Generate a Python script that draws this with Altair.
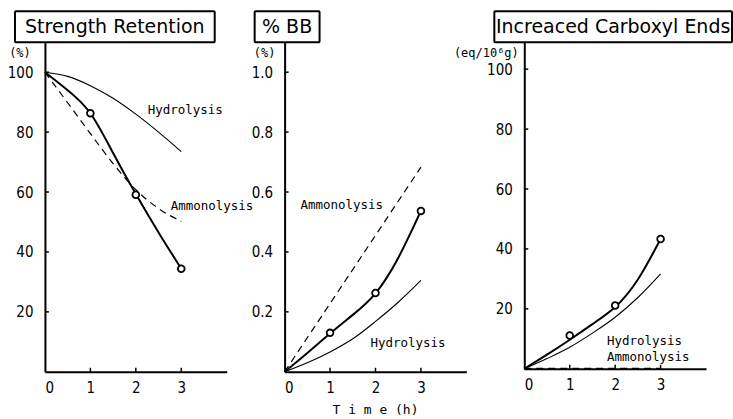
import altair as alt
import pandas as pd

# ---------------- data ----------------
t_meas = [0, 1, 2, 3]
t_curve = [0, 0.5, 1, 1.5, 2, 2.5, 3]

# Panel 1: Strength Retention (%)
sr_measured = [100, 86.3, 59.1, 34.4]                 # open circles
sr_fit = [100, 94.0, 86.3, 73.0, 59.3, 46.5, 34.4]     # thick curve
sr_hyd_t = t_curve
sr_hydrolysis = [100, 98.6, 95.5, 91.3, 86.0, 80.0, 73.5]
sr_amm_t = t_curve
sr_ammonolysis = [100, 89.8, 79.5, 69.5, 60.8, 54.5, 50.2]
sr_yticks = [20, 40, 60, 80, 100]
sr_labels = ["Hydrolysis", "Ammonolysis"]
sr_label_t = [2.26, 2.77]
sr_label_v = [87.3, 55.3]

# Panel 2: %BB (%)
bb_measured = [0, 0.13, 0.263, 0.537]
bb_fit = [0, 0.063, 0.128, 0.19, 0.262, 0.38, 0.537]
bb_hyd_t = t_curve
bb_hydrolysis = [0, 0.03, 0.066, 0.11, 0.168, 0.232, 0.305]
bb_amm_t = [0, 3]
bb_ammonolysis = [0, 0.683]
bb_yticks = [0.2, 0.4, 0.6, 0.8, 1.0]
bb_labels = ["Ammonolysis", "Hydrolysis"]
bb_label_t = [0.35, 1.89]
bb_label_v = [0.557, 0.097]

# Panel 3: Increaced Carboxyl Ends (eq/10^6 g)
ce_measured = [0, 11.1, 21.1, 43.3]
ce_fit = [0, 4.7, 9.7, 14.9, 20.6, 29.8, 43.3]
ce_hyd_t = t_curve
ce_hydrolysis = [0, 3.4, 7.2, 11.9, 17.2, 23.8, 31.7]
ce_amm_t = [0, 3]
ce_ammonolysis = [0, 0]
ce_yticks = [20, 40, 60, 80, 100]
ce_labels = ["Hydrolysis", "Ammonolysis"]
ce_label_t = [1.82, 1.82]
ce_label_v = [9.4, 3.8]

x_ticks = [0, 1, 2, 3]

LABEL_FONT = "Liberation Sans Narrow, DejaVu Sans Condensed, Liberation Sans"
MONO = "DejaVu Sans Mono"
TITLE_FONT = "DejaVu Sans"
W = 182


def panel(title, box_x, box_w, unit, unit_x, ymax, yticks, yfmt, height,
          meas, fit, hyd_t, hyd, amm_t, amm, labs, lab_t, lab_v,
          time_title=False, amm_width=1.2):
    xs = alt.Scale(domain=[0, 4], nice=False)
    ys = alt.Scale(domain=[0, ymax], nice=False, zero=True)
    X = alt.X("t:Q", scale=xs,
              axis=alt.Axis(values=x_ticks, title=None, format="d", labelPadding=9))
    Y = alt.Y("v:Q", scale=ys,
              axis=alt.Axis(values=yticks, title=None, format=yfmt, labelPadding=12))

    meas_df = pd.DataFrame({"t": t_meas, "v": meas})
    fit_df = pd.DataFrame({"t": t_curve, "v": fit})
    hyd_df = pd.DataFrame({"t": hyd_t, "v": hyd})
    amm_df = pd.DataFrame({"t": amm_t, "v": amm})
    lab_df = pd.DataFrame({"t": lab_t, "v": lab_v, "label": labs})

    hyd_line = alt.Chart(hyd_df).mark_line(color="black", strokeWidth=1.1,
                                           interpolate="monotone").encode(x=X, y=Y)
    amm_line = alt.Chart(amm_df).mark_line(color="black", strokeWidth=amm_width,
                                           strokeDash=[7, 5],
                                           interpolate="monotone").encode(x=X, y=Y)
    fit_line = alt.Chart(fit_df).mark_line(color="black", strokeWidth=2,
                                           interpolate="natural").encode(x=X, y=Y)
    meas_pts = alt.Chart(meas_df[meas_df["t"] > 0]).mark_point(
        shape="circle", filled=True, fill="white", stroke="black",
        strokeWidth=1.8, size=45, opacity=1).encode(x=X, y=Y)

    labels = alt.Chart(lab_df).mark_text(font=MONO, fontSize=12.5, align="left",
                                         baseline="middle", color="black").encode(
        x=X, y=Y, text="label:N")

    ytick_df = pd.DataFrame({"v": yticks})
    ytick_rules = alt.Chart(ytick_df).mark_rule(color="black", strokeWidth=1.5).encode(
        y=Y, x=alt.value(0), x2=alt.value(4))
    xtick_df = pd.DataFrame({"t": x_ticks[1:]})
    xtick_rules = alt.Chart(xtick_df).mark_rule(color="black", strokeWidth=1.5).encode(
        x=X, y=alt.value(height), y2=alt.value(height - 4))

    tdf = pd.DataFrame({"label": [title], "unit": [unit]})
    box = alt.Chart(tdf).mark_rect(fill="white", stroke="black", strokeWidth=2,
                                   cornerRadius=1).encode(
        x=alt.value(box_x), x2=alt.value(box_x + box_w),
        y=alt.value(-31), y2=alt.value(0))
    box_text = alt.Chart(tdf).mark_text(font=TITLE_FONT, fontSize=19, align="center",
                                        baseline="middle", color="black").encode(
        x=alt.value(box_x + box_w / 2), y=alt.value(-15), text="label:N")
    unit_text = alt.Chart(tdf).mark_text(font=MONO, fontSize=12, align="center",
                                         baseline="middle", color="black").encode(
        x=alt.value(unit_x), y=alt.value(11), text="unit:N")

    layers = [ytick_rules, xtick_rules, hyd_line, amm_line, fit_line, meas_pts,
              labels, box, box_text, unit_text]
    if time_title:
        time_df = pd.DataFrame({"label": ["T i m e (h)"]})
        layers.append(alt.Chart(time_df).mark_text(
            font=MONO, fontSize=13, align="center", baseline="middle",
            color="black").encode(x=alt.value(W / 2), y=alt.value(height + 38),
                                  text="label:N"))
    return alt.layer(*layers).properties(width=W, height=height)


p1 = panel("Strength Retention", -30, 200, "(%)", -25, 110, sr_yticks, "d", 330,
           sr_measured, sr_fit, sr_hyd_t, sr_hydrolysis, sr_amm_t, sr_ammonolysis,
           sr_labels, sr_label_t, sr_label_v)
p2 = panel("% BB", -30, 65, "(%)", -20, 1.1, bb_yticks, ".1f", 330,
           bb_measured, bb_fit, bb_hyd_t, bb_hydrolysis, bb_amm_t, bb_ammonolysis,
           bb_labels, bb_label_t, bb_label_v, time_title=True)
p3 = panel("Increaced Carboxyl Ends", -30, 238, "(eq/10\u2076g)", -38, 109, ce_yticks, "d", 327,
           ce_measured, ce_fit, ce_hyd_t, ce_hydrolysis, ce_amm_t, ce_ammonolysis,
           ce_labels, ce_label_t, ce_label_v, amm_width=2)

chart = alt.hconcat(p1, p2, p3, spacing=58, bounds="flush").properties(
    padding={"left": 7, "top": 10, "right": 0, "bottom": 0}
).configure_view(stroke=None).configure_axis(
    domainColor="black", domainWidth=2, ticks=False, grid=False,
    labelFont=LABEL_FONT, labelFontSize=15, labelColor="black"
)

chart.save("out.html", embed_options={"renderer": "svg", "actions": False})
